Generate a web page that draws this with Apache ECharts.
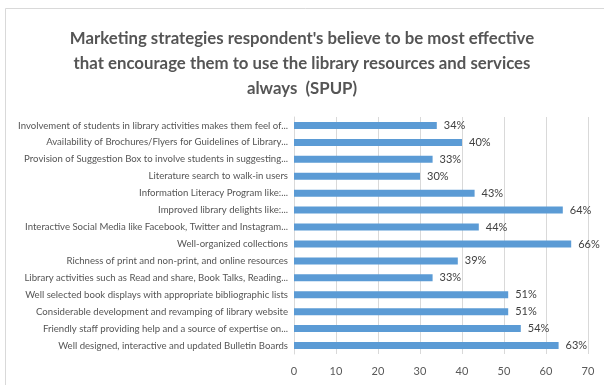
<!DOCTYPE html>
<html>
<head>
<meta charset="utf-8">
<style>
  html, body { margin: 0; padding: 0; background: #ffffff; }
  #chart { width: 604px; height: 385px; }
</style>
<script src="https://cdn.jsdelivr.net/npm/echarts@6/dist/echarts.min.js"></script>
</head>
<body>
<div id="chart"></div>
<script>
// Strategies, listed top to bottom
const categories = [
  "Involvement of students in library activities makes them feel of...",
  "Availability of Brochures/Flyers for Guidelines of Library...",
  "Provision of Suggestion Box to involve students in suggesting...",
  "Literature search to walk-in users",
  "Information Literacy Program like:...",
  "Improved library delights like:...",
  "Interactive Social Media like Facebook, Twitter and Instagram...",
  "Well-organized collections",
  "Richness of print and non-print, and online resources",
  "Library activities such as Read and share, Book Talks, Reading...",
  "Well selected book displays with appropriate bibliographic lists",
  "Considerable development and revamping of library website",
  "Friendly staff providing help and a source of expertise on...",
  "Well designed, interactive and updated Bulletin Boards"
];
// Share of respondents (%)
const percentages = [34, 40, 33, 30, 43, 64, 44, 66, 39, 33, 51, 51, 54, 63];
const xTicks = [0, 10, 20, 30, 40, 50, 60, 70];

const titleLines = [
  "Marketing strategies respondent's believe to be most effective",
  "that encourage them to use the library resources and services",
  "always  (SPUP)"
];

const chart = echarts.init(document.getElementById('chart'), null, { renderer: 'canvas' });
chart.setOption({
  animation: false,
  backgroundColor: '#ffffff',
  title: {
    text: titleLines.join('\n'),
    left: 'center',
    top: 21,
    textStyle: {
      fontFamily: 'Lato',
      fontSize: 16.8,
      fontWeight: 'bold',
      color: '#555555',
      lineHeight: 25
    }
  },
  graphic: [{
    type: 'rect',
    shape: { x: 5.5, y: 8.5, width: 620, height: 400 },
    style: { fill: 'none', stroke: '#d9d9d9', lineWidth: 1 },
    z: -1
  }],
  grid: { left: 294, right: 16, top: 117, bottom: 31, containLabel: false },
  xAxis: {
    type: 'value',
    min: xTicks[0],
    max: xTicks[xTicks.length - 1],
    interval: 10,
    axisLine: { show: false },
    axisTick: { show: false },
    axisLabel: { color: '#595959', fontFamily: 'Lato', fontSize: 11, margin: 12 },
    splitLine: { lineStyle: { color: '#d9d9d9', width: 1 } }
  },
  yAxis: {
    type: 'category',
    data: categories,
    inverse: true,
    axisLine: { show: true, lineStyle: { color: '#d9d9d9' } },
    axisTick: { show: false },
    axisLabel: { color: '#555555', fontFamily: 'Lato', fontSize: 9.6, margin: 6 }
  },
  series: [{
    type: 'bar',
    data: percentages,
    barWidth: 7,
    itemStyle: { color: '#5b9bd5' },
    label: {
      show: true,
      position: 'right',
      distance: 7,
      formatter: '{c}%',
      color: '#404040',
      fontFamily: 'Lato',
      fontSize: 11
    }
  }]
});
</script>
</body>
</html>
